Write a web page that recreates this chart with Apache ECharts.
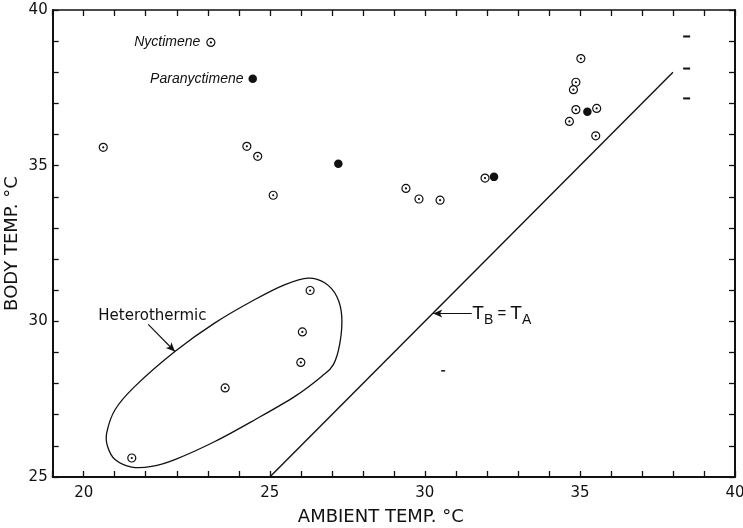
<!DOCTYPE html>
<html>
<head>
<meta charset="utf-8">
<script src="https://cdn.jsdelivr.net/npm/echarts@6/dist/echarts.min.js"></script>
<style>
  html, body { margin: 0; padding: 0; background: #fff; }
  #chart { width: 743px; height: 528px; }
</style>
</head>
<body>
<div id="chart"></div>
<script>
// Open circles: body temperature at each ambient temperature
const ambientOpen = [23.10, 19.63, 24.26, 24.61, 25.11, 29.39, 29.81, 30.49, 31.94, 35.03, 34.87, 34.79, 34.87, 34.66, 35.54, 35.51];
const bodyOpen    = [38.96, 35.59, 35.62, 35.30, 34.05, 34.27, 33.93, 33.89, 34.60, 38.44, 37.68, 37.44, 36.80, 36.42, 36.84, 35.96];
const openNames   = ['Nyctimene'];

// Filled circles
const ambientFilled = [24.45, 27.21, 32.23, 35.24];
const bodyFilled    = [37.79, 35.06, 34.64, 36.73];
const filledNames   = ['Paranyctimene'];

// Heterothermic readings
const ambientHetero = [26.30, 26.05, 26.00, 23.56, 20.55];
const bodyHetero    = [30.99, 29.66, 28.68, 27.86, 25.61];

// Outline drawn round the heterothermic group
const loopAmbient = [19.74, 20.01, 20.65, 21.94, 23.23, 24.52, 25.49, 26.24, 26.78, 27.16, 27.32, 27.26, 27.05, 26.67, 25.81, 24.52, 23.23, 21.94, 21.19, 20.55, 20.01, 19.77];
const loopBody    = [26.41, 27.16, 27.91, 29.03, 29.95, 30.70, 31.18, 31.39, 31.23, 30.80, 30.16, 29.30, 28.61, 28.23, 27.59, 26.84, 26.14, 25.56, 25.34, 25.32, 25.56, 25.98];

// Line of equality, TB = TA
const equalityRange = [25, 38];

// Short dashes near the right edge
const dashAmbient = [38.44, 38.44, 38.44, 30.59];
const dashBody    = [39.15, 38.12, 37.16, 28.41];

// Axis ticks and their printed labels
const xTickValues = [19, 25, 30, 35, 40];
const xTickLabels = ['20', '25', '30', '35', '40'];
const yTickValues = [25, 30, 35, 40];
const yTickLabels = ['25', '30', '35', '40'];

const INK = '#111';
const zip = (a, b) => a.map((v, i) => [v, b[i]]);

const openData = zip(ambientOpen, bodyOpen).concat(zip(ambientHetero, bodyHetero));
const speciesLabel = (text, dist) => ({
  show: true, formatter: text, position: 'left', distance: dist,
  fontFamily: 'Liberation Sans', fontStyle: 'italic', fontSize: 14, color: INK
});
const openItems = openData.map((p, i) => openNames[i] ? { value: p, label: speciesLabel(openNames[i], 6) } : { value: p });
const filledItems = zip(ambientFilled, bodyFilled).map((p, i) => filledNames[i] ? { value: p, label: speciesLabel(filledNames[i], 5) } : { value: p });

// Closed Catmull-Rom curve through pixel points, as SVG path data
function closedSpline(pts) {
  const n = pts.length;
  const P = i => pts[(i + n) % n];
  let d = 'M' + P(0)[0] + ' ' + P(0)[1];
  for (let i = 0; i < n; i++) {
    const p0 = P(i - 1), p1 = P(i), p2 = P(i + 1), p3 = P(i + 2);
    const c1 = [p1[0] + (p2[0] - p0[0]) / 6, p1[1] + (p2[1] - p0[1]) / 6];
    const c2 = [p2[0] - (p3[0] - p1[0]) / 6, p2[1] - (p3[1] - p1[1]) / 6];
    d += ' C' + c1[0] + ' ' + c1[1] + ' ' + c2[0] + ' ' + c2[1] + ' ' + p2[0] + ' ' + p2[1];
  }
  return d + ' Z';
}

const axisFont = { fontFamily: 'DejaVu Sans', fontSize: 15, color: INK };

const chart = echarts.init(document.getElementById('chart'), null, { renderer: 'canvas' });
chart.setOption({
  backgroundColor: '#fff',
  animation: false,
  grid: { left: 52.7, right: 8, top: 10, bottom: 51, outerBoundsMode: 'none' },
  xAxis: [{
    type: 'value', min: 18, max: 40, interval: 1,
    name: 'AMBIENT TEMP. °C', nameLocation: 'middle', nameGap: 31, nameMoveOverlap: false,
    nameTextStyle: { fontFamily: 'DejaVu Sans', fontSize: 18, color: INK, padding: [0, 26, 0, 0] },
    axisLine: { show: true, lineStyle: { color: INK, width: 2 } },
    axisTick: { show: true, inside: true, length: 6, lineStyle: { color: INK, width: 1.3 } },
    axisLabel: Object.assign({
      margin: 9,
      formatter: v => { const i = xTickValues.indexOf(v); return i >= 0 ? xTickLabels[i] : ''; }
    }, axisFont),
    splitLine: { show: false }
  }, {
    type: 'value', min: 18, max: 40, interval: 1, position: 'top',
    axisLine: { show: true, lineStyle: { color: INK, width: 1.6 } },
    axisTick: { show: true, inside: true, length: 6, lineStyle: { color: INK, width: 1.3 } },
    axisLabel: { show: false },
    splitLine: { show: false }
  }],
  yAxis: [{
    type: 'value', min: 25, max: 40, interval: 1,
    name: 'BODY TEMP. °C', nameLocation: 'middle', nameGap: 31, nameRotate: 90, nameMoveOverlap: false,
    nameTextStyle: { fontFamily: 'DejaVu Sans', fontSize: 18, color: INK },
    axisLine: { show: true, lineStyle: { color: INK, width: 2 } },
    axisTick: { show: true, inside: true, length: 6, lineStyle: { color: INK, width: 1.3 } },
    axisLabel: Object.assign({
      margin: 5,
      formatter: v => { const i = yTickValues.indexOf(v); return i >= 0 ? yTickLabels[i] : ''; }
    }, axisFont),
    splitLine: { show: false }
  }, {
    type: 'value', min: 25, max: 40, interval: 1, position: 'right',
    axisLine: { show: true, lineStyle: { color: INK, width: 2 } },
    axisTick: { show: true, inside: true, length: 6, lineStyle: { color: INK, width: 1.3 } },
    axisLabel: { show: false },
    splitLine: { show: false }
  }],
  series: [
    {
      name: 'equality', type: 'line', silent: true, symbol: 'none',
      data: equalityRange.map(v => [v, v]),
      lineStyle: { color: INK, width: 1.4 }, z: 2
    },
    {
      // closed smooth outline round the heterothermic readings
      name: 'heterothermic outline', type: 'custom', silent: true, z: 2,
      data: [0],
      renderItem: (params, api) => ({
        type: 'path',
        shape: { pathData: closedSpline(loopAmbient.map((a, i) => api.coord([a, loopBody[i]]))) },
        style: { fill: null, stroke: INK, lineWidth: 1.3 }
      })
    },
    {
      name: 'dashes', type: 'scatter', silent: true, symbol: 'rect',
      symbolSize: (v, p) => p.dataIndex < 3 ? [7, 2] : [4, 1.5],
      data: zip(dashAmbient, dashBody),
      itemStyle: { color: INK, opacity: 1 }, z: 3
    },
    {
      name: 'open', type: 'scatter', symbol: 'circle', symbolSize: 8,
      data: openItems,
      itemStyle: { color: '#fff', borderColor: INK, borderWidth: 1.2, opacity: 1 }, z: 4
    },
    {
      name: 'open centre', type: 'scatter', silent: true, symbol: 'circle', symbolSize: 2.2,
      data: openData,
      itemStyle: { color: INK, opacity: 1 }, z: 5
    },
    {
      name: 'filled', type: 'scatter', symbol: 'circle', symbolSize: 8.5,
      data: filledItems,
      itemStyle: { color: INK, opacity: 1 }, z: 4
    },
    {
      name: 'notes', type: 'scatter', silent: true, symbolSize: 0, z: 6,
      itemStyle: { opacity: 1 },
      data: [
        { value: [19.47, 30.16],
          label: { show: true, position: [0, 0], align: 'left', verticalAlign: 'middle',
                   formatter: 'Heterothermic', fontFamily: 'DejaVu Sans', fontSize: 15, color: INK } },
        { value: [31.53, 30.25],
          label: { show: true, position: [0, 0], align: 'left', verticalAlign: 'middle',
                   formatter: '{t|T}{s|B}{e| = }{t|T}{s|A}',
                   rich: {
                     t: { fontFamily: 'Liberation Sans', fontSize: 19, color: INK },
                     e: { fontFamily: 'Liberation Sans', fontSize: 15, color: INK },
                     s: { fontFamily: 'Liberation Sans', fontSize: 14, color: INK, padding: [13, 0, 0, 0] }
                   } } }
      ],
      markLine: {
        silent: true, symbol: ['none', 'arrow'], symbolSize: [6, 9],
        lineStyle: { color: INK, width: 1.2, type: 'solid', opacity: 1 },
        label: { show: false },
        data: [
          [{ coord: [21.08, 29.90] }, { coord: [21.94, 29.03] }],
          [{ coord: [31.51, 30.25] }, { coord: [30.27, 30.25] }]
        ]
      }
    }
  ]
});
</script>
</body>
</html>
